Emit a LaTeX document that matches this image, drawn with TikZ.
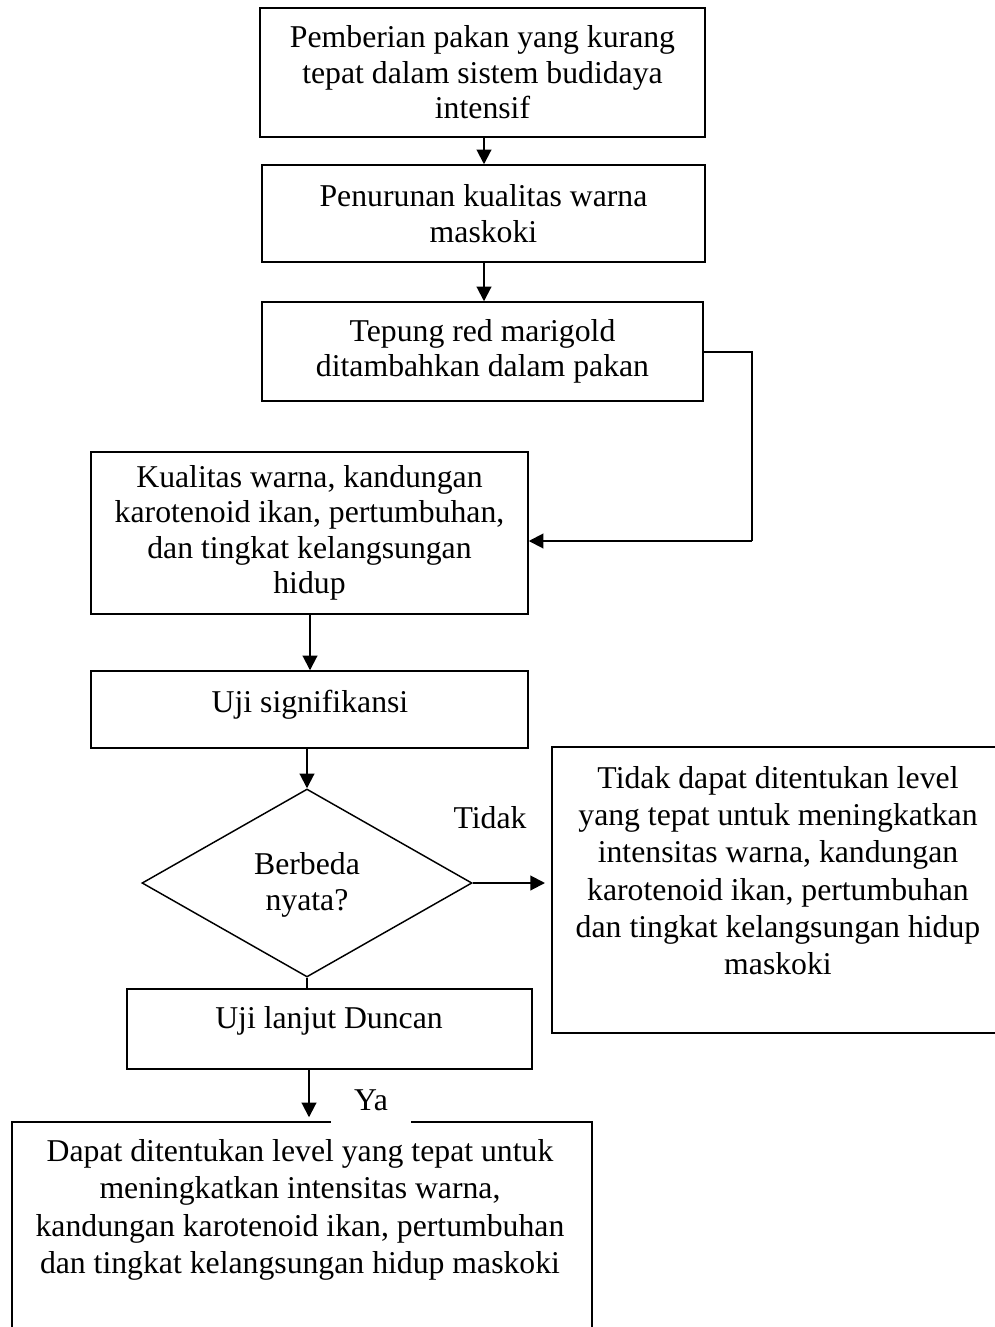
\documentclass[tikz,border=0pt]{standalone}
\usepackage{fontspec}
\setmainfont{Liberation Serif}
\usetikzlibrary{shapes.geometric,arrows.meta,calc}
\def\u{0.75pt}
\tikzset{
  box/.style={draw, line width=1.1pt, rectangle, inner sep=0pt, align=center},
  txt/.style={inner sep=0pt, align=center},
  wide/.style={font=\fontsize{23.8pt}{28pt}\selectfont},
  arr/.style={line width=1.5pt, -{Triangle[length=11pt,width=11pt]}},
  ln/.style={line width=1.5pt},
}
\begin{document}
\begin{tikzpicture}[x=0.75pt,y=-0.75pt,font=\fontsize{23.8pt}{26.6pt}\selectfont]
\useasboundingbox (0,0) rectangle (995,1327);
\clip (0,0) rectangle (995,1327);
\fill[white] (0,0) rectangle (995,1327);

\node[box, minimum width=445*\u, minimum height=129*\u] (b1) at (482.5,72.5)
  {Pemberian pakan yang kurang\\tepat dalam sistem budidaya\\intensif};
\node[box, minimum width=443*\u, minimum height=97*\u] (b2) at (483.5,213.5)
  {Penurunan kualitas warna\\maskoki};
\node[box, minimum width=441*\u, minimum height=99*\u] (b3) at (482.5,351.5)
  {Tepung red marigold\\ditambahkan dalam pakan};
\node[box, minimum width=437*\u, minimum height=162*\u] (b4) at (309.5,533)
  {Kualitas warna, kandungan\\karotenoid ikan, pertumbuhan,\\dan tingkat kelangsungan\\hidup};
\node[box, minimum width=437*\u, minimum height=77*\u] (b5) at (309.5,709.5) {};
\node[txt] (t5) at (310,704.5) {Uji signifikansi};

\node[draw, line width=1.1pt, diamond, inner sep=0pt, aspect=1.773,
  minimum width=330*\u, minimum height=188*\u] (d) at (307,883) {};
\node[txt] (td) at (307,885) {Berbeda\\nyata?};

\node[box, minimum width=488*\u, minimum height=286*\u] (b6) at (796,890) {};
\node[txt, wide] (t6) at (778,870.5) {Tidak dapat ditentukan level\\yang tepat untuk meningkatkan\\intensitas warna, kandungan\\karotenoid ikan, pertumbuhan\\dan tingkat kelangsungan hidup\\maskoki};

\node[box, minimum width=405*\u, minimum height=80*\u] (b7) at (329.5,1029) {};
\node[txt] (t7) at (329,1021) {Uji lanjut Duncan};

\node[box, minimum width=580*\u, minimum height=230*\u] (b8) at (302,1237) {};
\node[txt, wide] (t8) at (300,1210) {Dapat ditentukan level yang tepat untuk\\meningkatkan intensitas warna,\\kandungan karotenoid ikan, pertumbuhan\\dan tingkat kelangsungan hidup maskoki};

\node[txt, fill=white, minimum width=80*\u, minimum height=50*\u] (ya) at (371,1100) {Ya};
\node[txt] (tidak) at (490,818) {Tidak};

\coordinate (c1) at (752,352);
\coordinate (c2) at (752,541);
\coordinate (c3) at (545,883);

\draw[arr] (b1.south -| 484,0) -- (b2.north -| 484,0);
\draw[arr] (b2.south -| 484,0) -- (b3.north -| 484,0);
\draw[ln] (b3.east |- c1) -- (c1) -- (c2);
\draw[arr] (c2) -- (c2 -| b4.east);
\draw[arr] (b4.south -| 310,0) -- (b5.north -| 310,0);
\draw[arr] (b5.south -| d.north) -- (d.north);
\draw[arr] (d.east) -- (d.east -| c3);
\draw[ln] (d.south) -- (b7.north -| d.south);
\draw[arr, shorten >=3pt] (b7.south -| 309,0) -- (b8.north -| 309,0);
\end{tikzpicture}
\end{document}
